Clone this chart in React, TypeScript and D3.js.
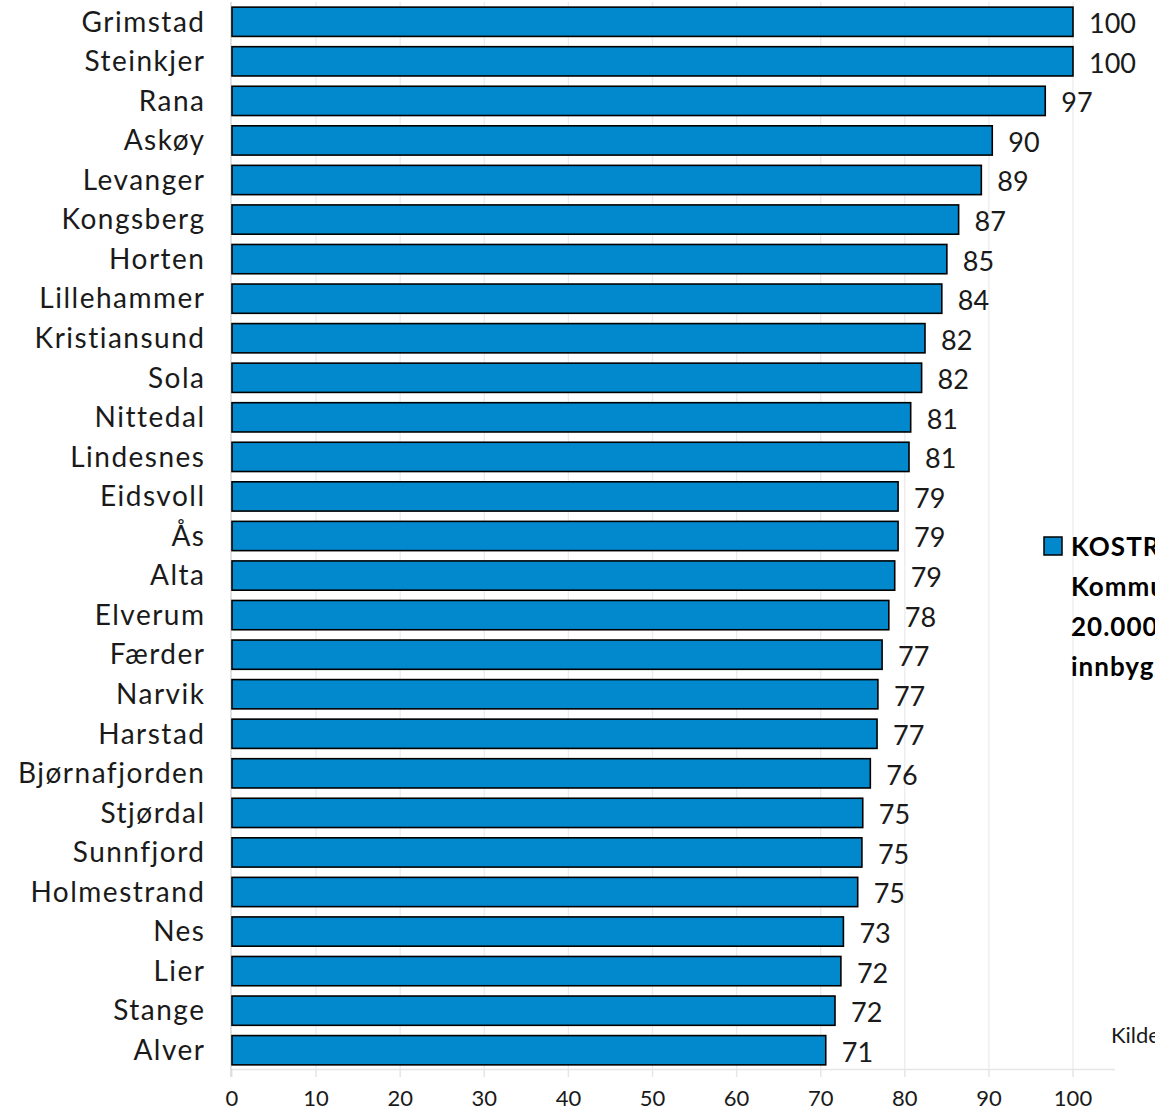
import React, { useEffect, useRef } from 'react';
import * as d3 from 'd3';

// Kommuner (sortert som i figuren)
const kommuner = [
  'Grimstad', 'Steinkjer', 'Rana', 'Askøy', 'Levanger', 'Kongsberg', 'Horten',
  'Lillehammer', 'Kristiansund', 'Sola', 'Nittedal', 'Lindesnes', 'Eidsvoll', 'Ås',
  'Alta', 'Elverum', 'Færder', 'Narvik', 'Harstad', 'Bjørnafjorden', 'Stjørdal',
  'Sunnfjord', 'Holmestrand', 'Nes', 'Lier', 'Stange', 'Alver',
];

// Indeksverdier (bar lengths)
const verdier = [
  100, 100, 96.7, 90.4, 89.1, 86.4, 85.0, 84.4, 82.4, 82.0, 80.7, 80.5, 79.2, 79.2,
  78.8, 78.1, 77.3, 76.8, 76.7, 75.9, 75.0, 74.9, 74.4, 72.7, 72.4, 71.7, 70.6,
];

// Rounded labels shown at the end of each bar
const etiketter = [
  100, 100, 97, 90, 89, 87, 85, 84, 82, 82, 81, 81, 79, 79,
  79, 78, 77, 77, 77, 76, 75, 75, 75, 73, 72, 72, 71,
];

const xTicks = [0, 10, 20, 30, 40, 50, 60, 70, 80, 90, 100];

const legendLines = ['KOSTRA-gruppe 13', 'Kommuner med over', '20.000', 'innbyggere'];
const kilde = 'Kilde: SSB / KOSTRA';

const FONT = '"Century Gothic", Lato, "Open Sans", sans-serif';
const TEXT = '#1a1a1a';
const BLUE = '#0289CD';

const App = () => {
  const ref = useRef<SVGSVGElement | null>(null);
  const width = 1155;
  const height = 1111;

  useEffect(() => {
    if (!ref.current) return;
    const svg = d3.select(ref.current);
    svg.selectAll('*').remove();

    const x = d3.scaleLinear().domain([0, 100]).range([232, 1073]);
    const y = d3.scaleBand<string>().domain(kommuner).range([2, 1070]).paddingInner(0.26).paddingOuter(0.13);

    // gridlines
    svg.append('g')
      .selectAll('line')
      .data(xTicks.slice(1))
      .enter().append('line')
      .attr('x1', d => x(d)).attr('x2', d => x(d))
      .attr('y1', 2).attr('y2', 1077)
      .attr('stroke', '#ececec')
      .attr('stroke-width', 1.3);

    // bottom axis
    svg.append('line')
      .attr('x1', 230).attr('x2', 1115)
      .attr('y1', 1069.5).attr('y2', 1069.5)
      .attr('stroke', '#e6e6e6').attr('stroke-width', 1.5);
    svg.append('g')
      .selectAll('line')
      .data(xTicks)
      .enter().append('line')
      .attr('x1', d => x(d)).attr('x2', d => x(d))
      .attr('y1', 1069).attr('y2', 1077)
      .attr('stroke', '#e6e6e6').attr('stroke-width', 1.3);

    // left axis line
    svg.append('line')
      .attr('x1', 231).attr('x2', 231)
      .attr('y1', 2).attr('y2', 1077)
      .attr('stroke', '#d9d9d9').attr('stroke-width', 1.5);

    // tick labels
    svg.append('g')
      .selectAll('text')
      .data(xTicks)
      .enter().append('text')
      .attr('x', d => x(d))
      .attr('y', 1106)
      .attr('text-anchor', 'middle')
      .attr('font-family', FONT)
      .attr('font-size', 22)
      .attr('fill', TEXT)
      .text(d => d);

    // bars
    svg.append('g')
      .selectAll('rect')
      .data(verdier)
      .enter().append('rect')
      .attr('x', x(0))
      .attr('y', (_, i) => y(kommuner[i])!)
      .attr('width', d => x(d) - x(0))
      .attr('height', y.bandwidth())
      .attr('fill', BLUE)
      .attr('stroke', '#000')
      .attr('stroke-width', 1.6);

    // category labels
    svg.append('g')
      .selectAll('text')
      .data(kommuner)
      .enter().append('text')
      .attr('x', 205.5)
      .attr('y', d => y(d)! + y.bandwidth() / 2)
      .attr('dy', '0.35em')
      .attr('text-anchor', 'end')
      .attr('font-family', FONT)
      .attr('font-size', 28)
      .attr('letter-spacing', 1.5)
      .attr('fill', TEXT)
      .text(d => d);

    // value labels
    svg.append('g')
      .selectAll('text')
      .data(verdier)
      .enter().append('text')
      .attr('x', d => x(d) + 16)
      .attr('y', (_, i) => y(kommuner[i])! + y.bandwidth() / 2 + 2)
      .attr('dy', '0.35em')
      .attr('font-family', FONT)
      .attr('font-size', 27)
      .attr('fill', TEXT)
      .text((_, i) => etiketter[i]);

    // legend
    svg.append('rect')
      .attr('x', 1044).attr('y', 537)
      .attr('width', 18).attr('height', 18)
      .attr('fill', BLUE)
      .attr('stroke', '#000')
      .attr('stroke-width', 1.5);
    svg.append('g')
      .selectAll('text')
      .data(legendLines)
      .enter().append('text')
      .attr('x', 1071)
      .attr('y', (_, i) => 556 + i * 40)
      .attr('font-family', FONT)
      .attr('font-size', 26)
      .attr('font-weight', 'bold')
      .attr('letter-spacing', 1)
      .attr('fill', '#000')
      .text(d => d);

    svg.append('text')
      .attr('x', 1111).attr('y', 1043)
      .attr('font-family', FONT)
      .attr('font-size', 22)
      .attr('fill', TEXT)
      .text(kilde);
  }, []);

  return (
    <div style={{ position: 'absolute', left: 0, top: 0 }}>
      <svg ref={ref} width={width} height={height} style={{ display: 'block' }}></svg>
    </div>
  );
};

export default App;
